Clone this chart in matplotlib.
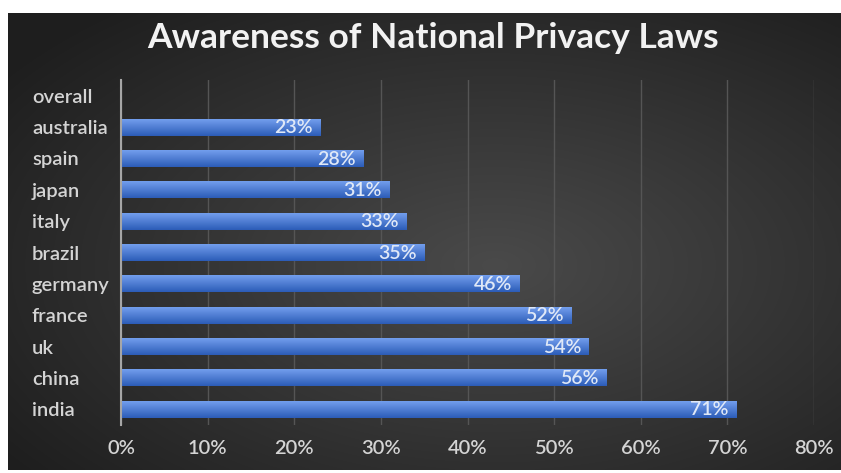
import matplotlib.pyplot as plt
import numpy as np

countries = ['overall', 'australia', 'spain', 'japan', 'italy', 'brazil',
             'germany', 'france', 'uk', 'china', 'india']
awareness = [np.nan, 23, 28, 31, 33, 35, 46, 52, 54, 56, 71]
xticks = [0, 10, 20, 30, 40, 50, 60, 70, 80]

W, H = 841, 473
fig = plt.figure(figsize=(W / 100, H / 100), dpi=100)
fig.patch.set_facecolor('white')

# dark radial gradient background panel
bg = fig.add_axes([8 / W, 3 / H, 1 - 8 / W, 1 - 16 / H])
yy, xx = np.mgrid[0:200, 0:360]
r = np.sqrt(((xx - 210) / 360) ** 2 + ((yy - 110) / 200) ** 2)
shade = 0.29 - 0.17 * np.clip(r / 0.72, 0, 1)
bg.imshow(np.dstack([shade, shade, shade]), aspect='auto',
          extent=[0, 1, 0, 1], interpolation='bilinear')
bg.set_axis_off()

ax = fig.add_axes([121 / W, 1 - 425 / H, (814 - 121) / W, (425 - 80) / H])
ax.patch.set_alpha(0)

y = np.arange(len(countries))
vals = np.array(awareness, dtype=float)
bars = ax.barh(y, np.nan_to_num(vals), height=0.54, color='#3f6fcc', zorder=3)

# vertical blue gradient inside each bar (lighter top, darker bottom)
grad = np.linspace(0, 1, 64)[:, None]
top = np.array([0.45, 0.62, 0.93])
bot = np.array([0.17, 0.36, 0.72])
gimg = (top[None, None, :] * (1 - grad[:, :, None]) +
        bot[None, None, :] * grad[:, :, None])
for b in bars:
    if b.get_width() <= 0:
        continue
    x0, y0 = b.get_x(), b.get_y()
    im = ax.imshow(gimg, aspect='auto', interpolation='bilinear', zorder=3.5,
                   extent=[x0, x0 + b.get_width(), y0 + b.get_height(), y0])
    im.set_clip_path(b)

for yi, v in zip(y, vals):
    if np.isnan(v):
        continue
    ax.text(v - 0.9, yi + 0.02, f'{v:.0f}%', ha='right', va='center',
            color='#dfe8f7', fontsize=14, fontweight='semibold',
            family='Lato', zorder=4)

ax.set_ylim(len(countries) - 0.5, -0.5)
ax.set_xlim(0, 80)
ax.set_xticks(xticks)
ax.set_xticklabels([f'{t}%' for t in xticks])
ax.set_yticks(y)
ax.set_yticklabels(countries)
for lab in ax.get_yticklabels():
    lab.set_horizontalalignment('left')
ax.tick_params(axis='y', length=0, pad=(121 - 32) * 0.72, labelsize=14.5,
               labelcolor='#d4d4d4')
ax.tick_params(axis='x', length=0, pad=11, labelsize=14.5,
               labelcolor='#d4d4d4')
for lab in ax.get_xticklabels() + ax.get_yticklabels():
    lab.set_family('Lato')
    lab.set_fontweight('semibold')

ax.xaxis.grid(True, color='#555555', linewidth=1, zorder=1)
for s in ['top', 'right', 'bottom']:
    ax.spines[s].set_visible(False)
ax.spines['left'].set_color('#a6a6a6')
ax.spines['left'].set_linewidth(1.5)
ax.spines['left'].set_zorder(5)

fig.text(433 / W, 1 - 38 / H, 'Awareness of National Privacy Laws',
         ha='center', va='center', color='#f2f2f2', fontsize=25.5,
         fontweight='bold', family='Lato')

fig.savefig('out.png', dpi=100)
